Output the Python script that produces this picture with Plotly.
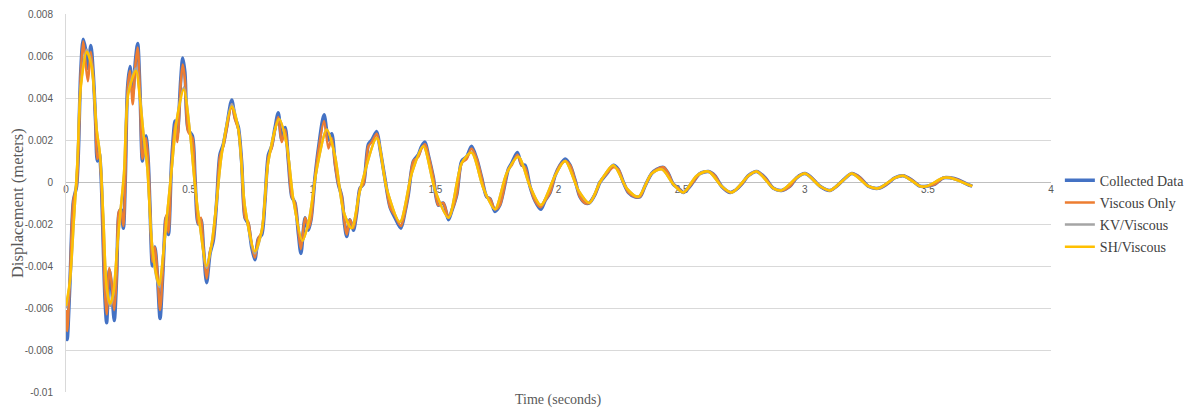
import plotly.graph_objects as go

# ---- data ----
t_fine = [0, 0.005, 0.016, 0.030, 0.043, 0.050, 0.060, 0.070, 0.080, 0.089, 0.101, 0.111, 0.120, 0.127, 0.135,
          0.142, 0.149, 0.158, 0.165, 0.176, 0.185, 0.196, 0.206, 0.215, 0.223, 0.233, 0.241, 0.250, 0.260, 0.271,
          0.282, 0.291, 0.300, 0.310, 0.317, 0.325, 0.334, 0.341, 0.351, 0.361, 0.371, 0.382, 0.393, 0.406, 0.416,
          0.429, 0.443, 0.452, 0.466, 0.474, 0.483, 0.496, 0.513, 0.524, 0.537, 0.548, 0.558, 0.571, 0.585, 0.598,
          0.612, 0.625, 0.639, 0.652, 0.673, 0.686, 0.700, 0.713, 0.727, 0.740, 0.754, 0.767, 0.781, 0.795, 0.808,
          0.822, 0.835, 0.849, 0.862, 0.876, 0.890, 0.903, 0.917, 0.930, 0.944, 0.954, 0.971, 0.984, 0.995, 1.011,
          1.025, 1.048, 1.066, 1.079, 1.093, 1.106, 1.120, 1.131, 1.140, 1.153, 1.167, 1.180, 1.194, 1.208, 1.228,
          1.242, 1.262, 1.275, 1.296, 1.316, 1.336, 1.360, 1.377, 1.390, 1.411, 1.431, 1.444, 1.458, 1.471, 1.492,
          1.512, 1.532, 1.553, 1.566, 1.587, 1.607, 1.627, 1.647, 1.668, 1.688, 1.708, 1.722, 1.742, 1.762, 1.796,
          1.810, 1.833, 1.851, 1.864, 1.884, 1.905, 1.928, 1.945, 1.966, 1.986, 2.006, 2.027, 2.047, 2.067, 2.087,
          2.108, 2.125, 2.148, 2.169, 2.196, 2.223, 2.243, 2.263, 2.284, 2.310, 2.331, 2.351, 2.378, 2.399, 2.426,
          2.446, 2.466, 2.487, 2.507, 2.527, 2.547, 2.574, 2.609, 2.635, 2.662, 2.697, 2.717, 2.744, 2.771, 2.805,
          2.839, 2.873, 2.906, 2.940, 2.967, 3.001, 3.028, 3.062, 3.103, 3.130, 3.157, 3.191, 3.225, 3.258, 3.299,
          3.333, 3.366, 3.400, 3.434, 3.468, 3.495, 3.529, 3.563, 3.590, 3.624, 3.658, 3.680]

collected = [-0.0063, -0.0075, -0.0048, -0.0009, -0.0002, 0.0013, 0.0053, 0.0068, 0.0063, 0.0054, 0.0065, 0.0051,
             0.0029, 0.0010, 0.0014, 0.0004, -0.0021, -0.0055, -0.0067, -0.0042, -0.0050, -0.0066, -0.0044, -0.0015,
             -0.0013, -0.0022, 0.0002, 0.0045, 0.0055, 0.0042, 0.0058, 0.0066, 0.0045, 0.0010, 0.0017, 0.0022,
             0.0010, -0.0012, -0.0040, -0.0031, -0.0044, -0.0065, -0.0044, -0.0017, -0.0025, 0.0010, 0.0029,
             0.0023, 0.0049, 0.0059, 0.0052, 0.0025, 0.0022, 0.0002, -0.0020, -0.0018, -0.0031, -0.0048, -0.0034,
             -0.0028, -0.0009, 0.0013, 0.0018, 0.0026, 0.0039, 0.0031, 0.0026, 0.0010, -0.0017, -0.0020, -0.0031,
             -0.0037, -0.0027, -0.0025, -0.0009, 0.0013, 0.0017, 0.0026, 0.0033, 0.0020, 0.0026, 0.0010, -0.0007,
             -0.0010, -0.0025, -0.0034, -0.0017, -0.0023, -0.0018, 0.0002, 0.0016, 0.0032, 0.0020, 0.0023, 0.0009,
             -0.0001, -0.0007, -0.0020, -0.0026, -0.0018, -0.0023, -0.0015, -0.0003, -0.0001, 0.0018, 0.0020,
             0.0024, 0.0016, 0.0001, -0.0012, -0.0017, -0.0022, -0.0014, -0.0006, 0.0010, 0.0013, 0.0017, 0.0019,
             0.0013, 0.0002, -0.0011, -0.0010, -0.0018, -0.0014, -0.0006, 0.0010, 0.0012, 0.0017, 0.0011, 0.0002,
             -0.0007, -0.0008, -0.0014, -0.0011, 0.0006, 0.0009, 0.0014, 0.0008, 0.0008, -0.0002, -0.0009, -0.0013,
             -0.0009, -0.0005, 0.0003, 0.0008, 0.0011, 0.0008, 0.0001, -0.0007, -0.0010, -0.0010, -0.0006, 0.0000,
             0.0004, 0.0008, 0.0006, 0.0000, -0.0005, -0.0007, -0.0007, -0.0002, 0.0004, 0.0006, 0.0007, 0.0004,
             -0.0001, -0.0003, -0.0005, -0.0003, 0.0000, 0.0004, 0.0005, 0.0003, -0.0002, -0.0005, -0.0004, -0.0001,
             0.0003, 0.0005, 0.0002, -0.0003, -0.0004, -0.0002, 0.0002, 0.0004, 0.0002, -0.0002, -0.0004, -0.0002,
             0.0001, 0.0004, 0.0002, -0.0002, -0.0003, -0.0001, 0.0002, 0.0003, 0.0001, -0.0002, -0.0002, -0.0001,
             0.0002, 0.0002, 0.0001, -0.0001, -0.0002]

viscous_only = [-0.0061, -0.0071, -0.0046, -0.0009, -0.0002, 0.0013, 0.0052, 0.0067, 0.0056, 0.0048, 0.0062, 0.0050,
                0.0028, 0.0011, 0.0014, 0.0004, -0.0020, -0.0052, -0.0063, -0.0041, -0.0048, -0.0061, -0.0044, -0.0014,
                -0.0013, -0.0021, 0.0002, 0.0044, 0.0053, 0.0037, 0.0056, 0.0064, 0.0044, 0.0011, 0.0015, 0.0021,
                0.0010, -0.0011, -0.0038, -0.0031, -0.0043, -0.0061, -0.0043, -0.0016, -0.0024, 0.0009, 0.0028,
                0.0019, 0.0047, 0.0056, 0.0049, 0.0024, 0.0021, 0.0002, -0.0020, -0.0017, -0.0031, -0.0046, -0.0033,
                -0.0027, -0.0009, 0.0012, 0.0017, 0.0025, 0.0037, 0.0030, 0.0025, 0.0010, -0.0017, -0.0019, -0.0030,
                -0.0036, -0.0027, -0.0024, -0.0009, 0.0012, 0.0016, 0.0025, 0.0031, 0.0019, 0.0025, 0.0010, -0.0007,
                -0.0010, -0.0024, -0.0032, -0.0017, -0.0022, -0.0018, 0.0002, 0.0015, 0.0029, 0.0016, 0.0021, 0.0008,
                -0.0001, -0.0007, -0.0019, -0.0025, -0.0018, -0.0022, -0.0015, -0.0003, -0.0001, 0.0017, 0.0019,
                0.0023, 0.0016, 0.0001, -0.0012, -0.0016, -0.0021, -0.0014, -0.0006, 0.0010, 0.0012, 0.0016, 0.0018,
                0.0013, 0.0002, -0.0011, -0.0010, -0.0017, -0.0014, -0.0006, 0.0009, 0.0011, 0.0016, 0.0011, 0.0002,
                -0.0007, -0.0008, -0.0013, -0.0011, 0.0006, 0.0008, 0.0013, 0.0008, 0.0007, -0.0002, -0.0009, -0.0012,
                -0.0009, -0.0005, 0.0003, 0.0008, 0.0010, 0.0008, 0.0001, -0.0007, -0.0010, -0.0010, -0.0006, 0.0000,
                0.0004, 0.0007, 0.0006, 0.0000, -0.0005, -0.0007, -0.0007, -0.0002, 0.0004, 0.0006, 0.0007, 0.0004,
                -0.0001, -0.0003, -0.0005, -0.0003, 0.0000, 0.0004, 0.0005, 0.0003, -0.0002, -0.0005, -0.0004, -0.0001,
                0.0003, 0.0005, 0.0002, -0.0003, -0.0004, -0.0002, 0.0002, 0.0004, 0.0002, -0.0002, -0.0004, -0.0002,
                0.0001, 0.0004, 0.0002, -0.0002, -0.0003, -0.0001, 0.0002, 0.0003, 0.0001, -0.0002, -0.0002, -0.0001,
                0.0002, 0.0002, 0.0001, -0.0001, -0.0002]

t_smooth = [0, 0.016, 0.032, 0.046, 0.060, 0.084, 0.104, 0.1245, 0.138, 0.152, 0.165, 0.179, 0.192, 0.208, 0.222,
            0.2355, 0.253, 0.284, 0.300, 0.317, 0.330, 0.348, 0.368, 0.379, 0.395, 0.411, 0.429, 0.449, 0.478, 0.504,
            0.524, 0.544, 0.571, 0.592, 0.612, 0.632, 0.673, 0.700, 0.727, 0.767, 0.795, 0.822, 0.866, 0.896, 0.924,
            0.960, 0.987, 1.018, 1.059, 1.093, 1.127, 1.160, 1.194, 1.262, 1.302, 1.356, 1.404, 1.451, 1.499, 1.553,
            1.607, 1.647, 1.695, 1.742, 1.789, 1.837, 1.884, 1.928, 1.986, 2.027, 2.081, 2.125, 2.169, 2.223, 2.277,
            2.324, 2.378, 2.420, 2.466, 2.507, 2.561, 2.609, 2.662, 2.704, 2.771, 2.805, 2.873, 2.906, 2.967, 3.001,
            3.062, 3.103, 3.157, 3.191, 3.258, 3.299, 3.366, 3.400, 3.468, 3.495, 3.563, 3.590, 3.658, 3.680]

kv_viscous = [-0.0060, -0.0048, -0.0018, 0.0009, 0.0046, 0.0063, 0.0056, 0.0025, 0.0013, -0.0018, -0.0051,
              -0.0059, -0.0054, -0.0031, -0.0013, 0.0004, 0.0043, 0.0054, 0.0041, 0.0020, 0.0007, -0.0028, -0.0046,
              -0.0050, -0.0034, -0.0015, 0.0006, 0.0029, 0.0045, 0.0023, -0.0002, -0.0021, -0.0041, -0.0029, -0.0009,
              0.0013, 0.0037, 0.0025, -0.0012, -0.0034, -0.0023, 0.0010, 0.0030, 0.0018, -0.0009, -0.0028, -0.0018,
              0.0006, 0.0025, 0.0012, -0.0014, -0.0022, -0.0004, 0.0021, -0.0003, -0.0019, 0.0004, 0.0017, -0.0004,
              -0.0017, 0.0009, 0.0014, -0.0003, -0.0013, 0.0004, 0.0012, -0.0002, -0.0011, 0.0003, 0.0010, -0.0004,
              -0.0010, 0.0000, 0.0008, -0.0003, -0.0007, 0.0004, 0.0006, -0.0001, -0.0005, 0.0003, 0.0005, -0.0002,
              -0.0005, 0.0003, 0.0005, -0.0003, -0.0004, 0.0002, 0.0004, -0.0002, -0.0004, 0.0001, 0.0004, -0.0002,
              -0.0003, 0.0002, 0.0003, -0.0002, -0.0002, 0.0002, 0.0002, -0.0001, -0.0002]

sh_viscous = [-0.0059, -0.0047, -0.0018, 0.0009, 0.0045, 0.0062, 0.0055, 0.0025, 0.0013, -0.0018, -0.0050,
              -0.0058, -0.0053, -0.0031, -0.0013, 0.0004, 0.0042, 0.0053, 0.0040, 0.0020, 0.0007, -0.0028, -0.0045,
              -0.0049, -0.0034, -0.0015, 0.0006, 0.0029, 0.0044, 0.0023, -0.0002, -0.0021, -0.0040, -0.0029, -0.0009,
              0.0013, 0.0036, 0.0025, -0.0012, -0.0033, -0.0023, 0.0010, 0.0030, 0.0018, -0.0009, -0.0028, -0.0018,
              0.0006, 0.0025, 0.0012, -0.0014, -0.0022, -0.0004, 0.0021, -0.0003, -0.0019, 0.0004, 0.0017, -0.0004,
              -0.0017, 0.0009, 0.0014, -0.0003, -0.0013, 0.0004, 0.0012, -0.0002, -0.0011, 0.0003, 0.0010, -0.0004,
              -0.0010, 0.0000, 0.0008, -0.0003, -0.0007, 0.0004, 0.0006, -0.0001, -0.0005, 0.0003, 0.0005, -0.0002,
              -0.0005, 0.0003, 0.0005, -0.0003, -0.0004, 0.0002, 0.0004, -0.0002, -0.0004, 0.0001, 0.0004, -0.0002,
              -0.0003, 0.0002, 0.0003, -0.0002, -0.0002, 0.0002, 0.0002, -0.0001, -0.0002]

x_ticks = [0, 0.5, 1, 1.5, 2, 2.5, 3, 3.5, 4]
x_tick_text = ["0", "0.5", "1", "1.5", "2", "2.5", "3", "3.5", "4"]
y_ticks = [0.008, 0.006, 0.004, 0.002, 0, -0.002, -0.004, -0.006, -0.008, -0.01]
y_tick_text = ["0.008", "0.006", "0.004", "0.002", "0", "-0.002", "-0.004", "-0.006", "-0.008", "-0.01"]

series = [
    ("Collected Data", t_fine, collected, "#4472C4", 3.5),
    ("Viscous Only", t_fine, viscous_only, "#ED7D31", 2.5),
    ("KV/Viscous", t_smooth, kv_viscous, "#A5A5A5", 2.5),
    ("SH/Viscous", t_smooth, sh_viscous, "#FFC000", 2.5),
]

fig = go.Figure()
for i, (name, tx, ys, col, w) in enumerate(series):
    fig.add_trace(go.Scatter(x=tx, y=ys, mode="lines", name=name, legendgroup=f"g{i}",
                             line=dict(color=col, width=w, shape="spline", smoothing=0.8)))

tick_font = dict(family="Liberation Sans, Arial, sans-serif", size=10, color="#595959")
serif = "Liberation Serif, Times New Roman, serif"

fig.update_layout(
    width=1195, height=410,
    margin=dict(l=66, r=144, t=14, b=18, autoexpand=False),
    paper_bgcolor="white", plot_bgcolor="white",
    showlegend=True,
    legend=dict(x=1.009, y=0.472, xanchor="left", yanchor="middle",
                font=dict(family=serif, size=14, color="#404040"),
                tracegroupgap=1, bgcolor="rgba(0,0,0,0)"),
    xaxis=dict(range=[0, 4], tickvals=x_ticks, ticktext=x_tick_text, showgrid=False,
               zeroline=False, showline=False, ticks="", tickfont=tick_font, automargin=False,
               anchor="free", position=(0 - (-0.01)) / 0.018, layer="below traces"),
    yaxis=dict(range=[-0.01, 0.008], tickvals=y_ticks, ticktext=y_tick_text,
               showgrid=True, gridcolor="#d9d9d9", gridwidth=1, automargin=False,
               zeroline=True, zerolinecolor="#bfbfbf", zerolinewidth=1,
               showline=True, linecolor="#d9d9d9", linewidth=1,
               ticks="", tickfont=tick_font, ticklabelstandoff=10),
    annotations=[
        dict(text="Displacement (meters)", xref="paper", yref="paper", x=-0.0497, y=0.5,
             textangle=-90, showarrow=False, xanchor="center", yanchor="middle",
             font=dict(family=serif, size=16.5, color="#595959")),
        dict(text="Time (seconds)", xref="paper", yref="paper", x=0.5, y=-0.0212,
             showarrow=False, xanchor="center", yanchor="middle",
             font=dict(family=serif, size=14, color="#595959")),
    ],
)

fig.write_html("out.html", config={"displayModeBar": False},
               post_script="document.body.style.margin='0';document.body.style.overflow='hidden';")
